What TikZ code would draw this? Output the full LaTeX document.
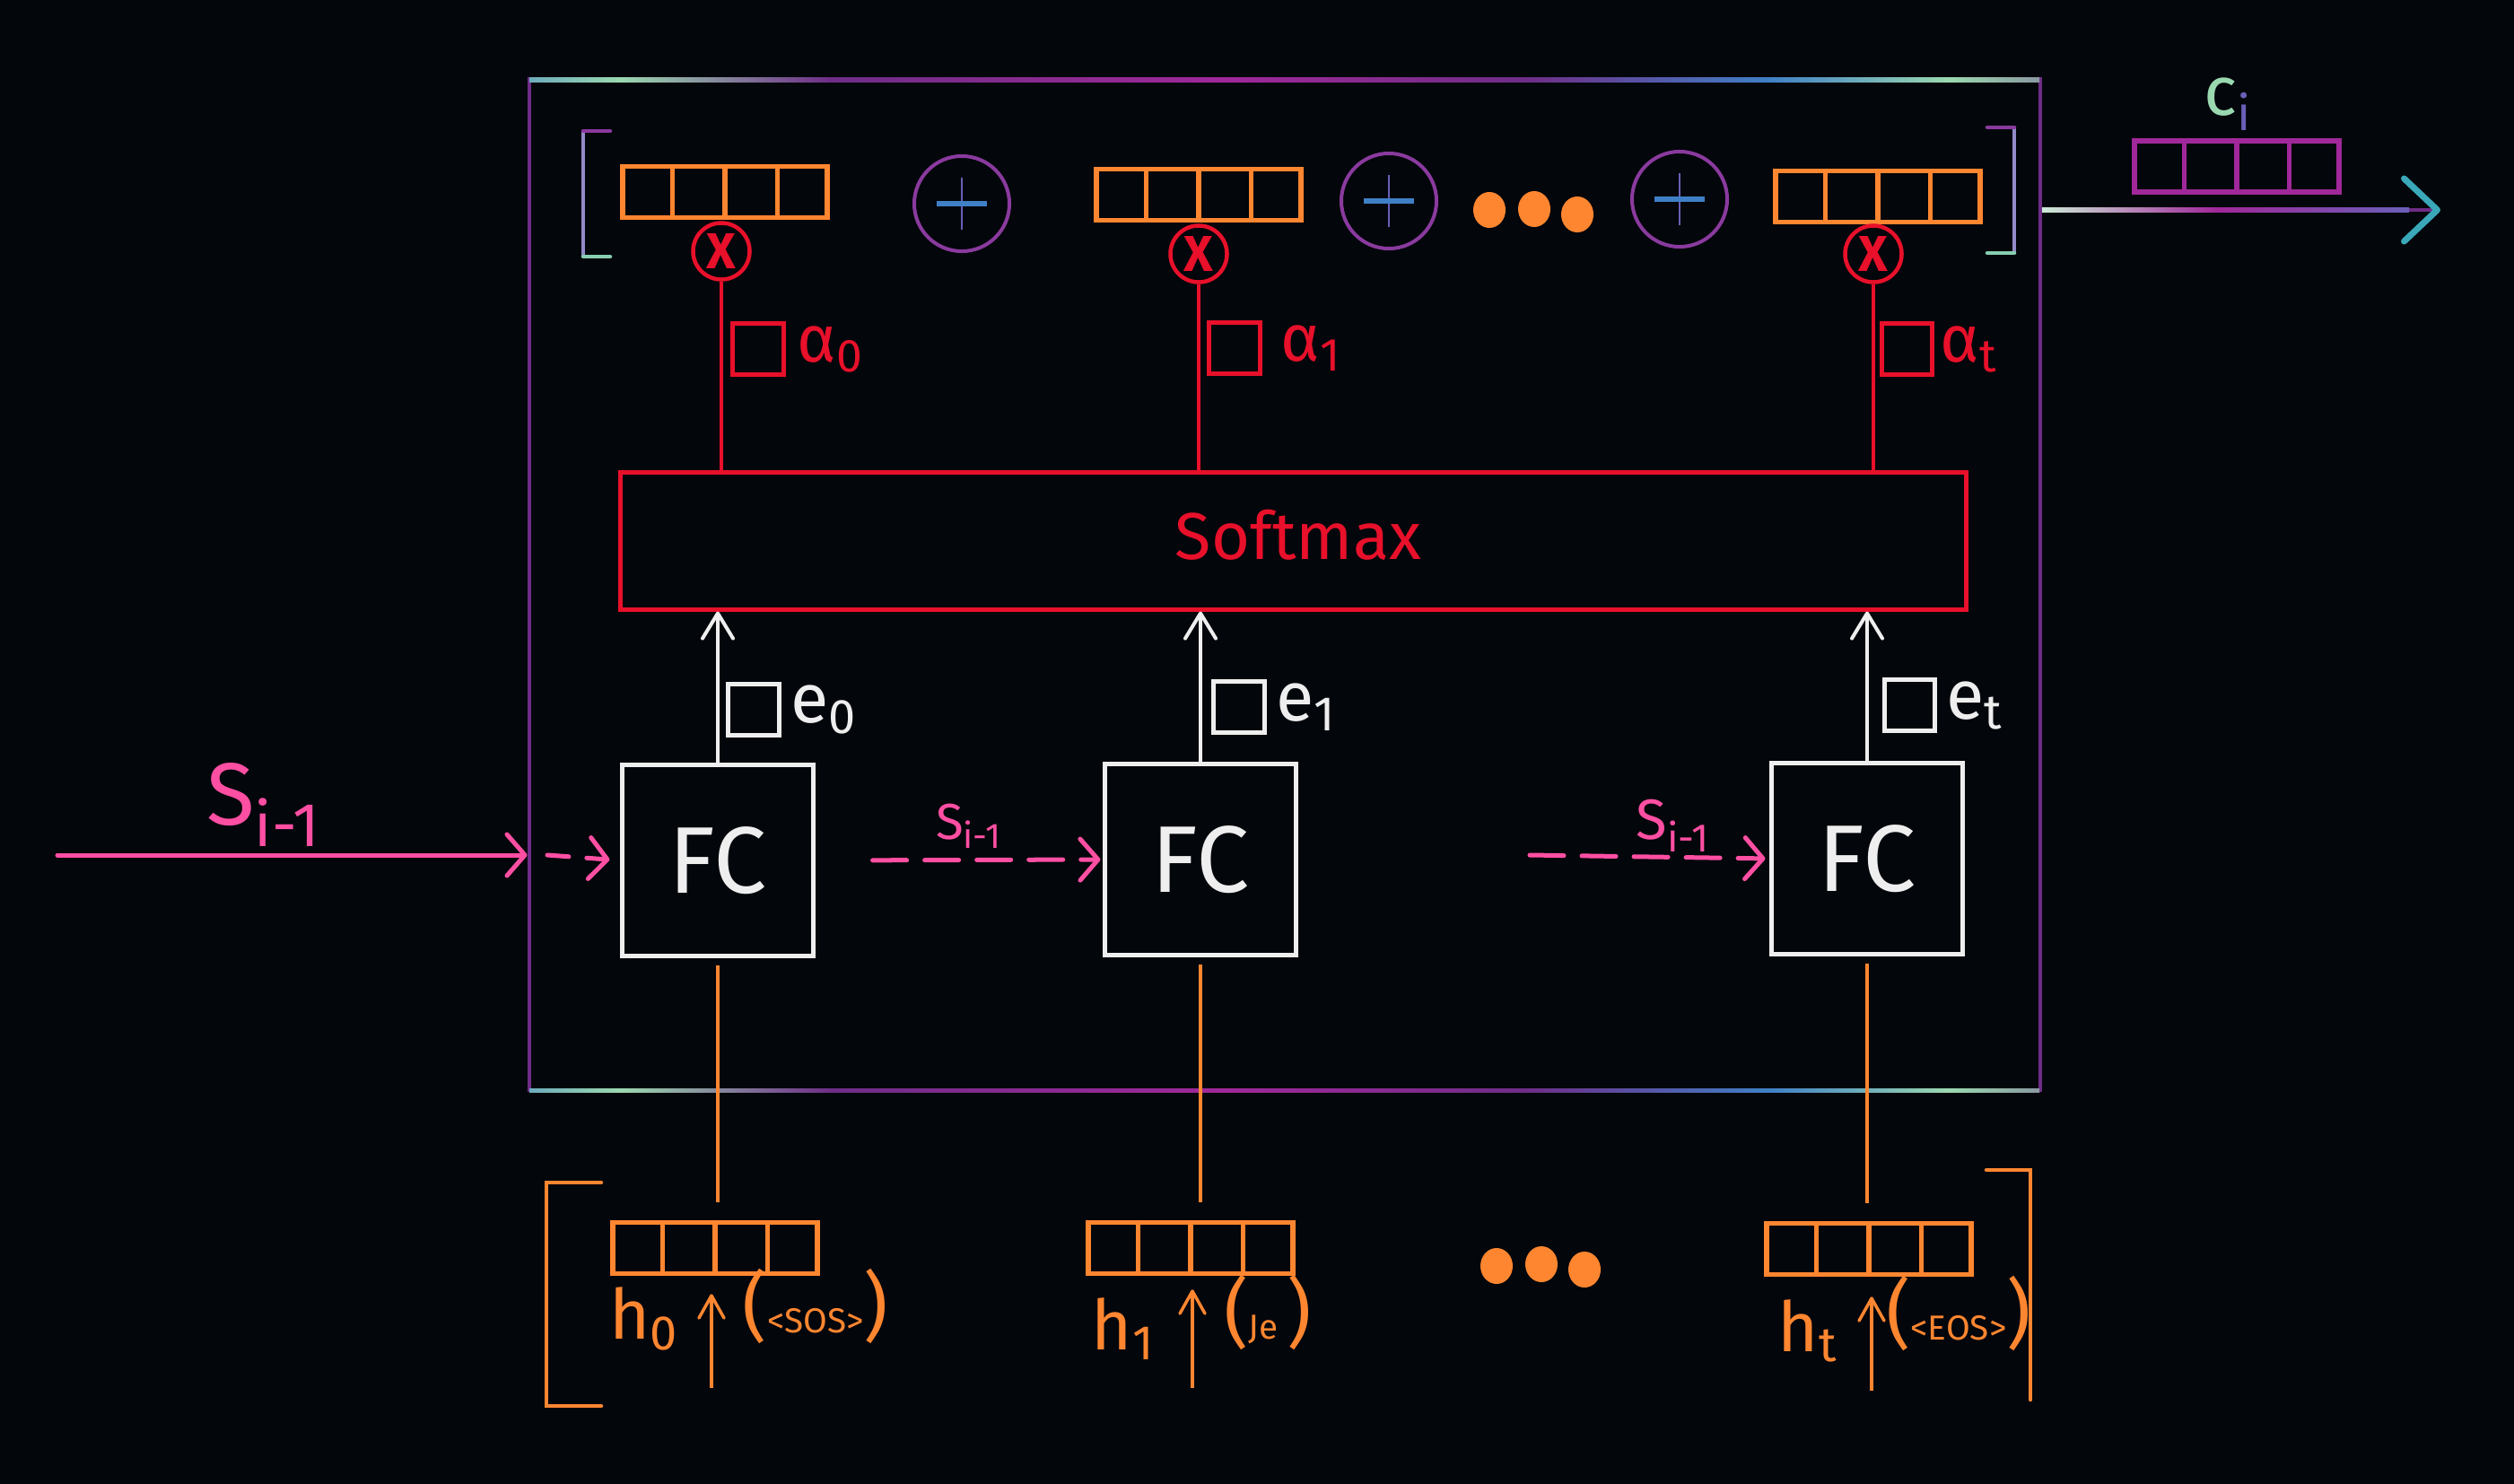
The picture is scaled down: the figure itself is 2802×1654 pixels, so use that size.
\documentclass[tikz,border=0pt]{standalone}
\usepackage{fontspec}
\setmainfont{Fira Sans}
\usetikzlibrary{arrows.meta,calc}
\definecolor{bg}{HTML}{03060B}
\definecolor{myorange}{HTML}{FF8630}
\definecolor{myred}{HTML}{E8102A}
\definecolor{mypink}{HTML}{FF4FA3}
\definecolor{mywhite}{HTML}{EEEEEE}
\definecolor{mypurple}{HTML}{6E2D87}
\definecolor{mymagenta}{HTML}{A0289A}
\definecolor{myblue}{HTML}{3F7FC6}
\definecolor{myviolet}{HTML}{6A5FB8}
\definecolor{myteal}{HTML}{3AA8B8}
\definecolor{mygreen}{HTML}{9AD8B0}
\definecolor{plumring}{HTML}{8A3A9E}
\pgfdeclarehorizontalshading{glitter}{100bp}{color(0bp)=(mypurple); color(15bp)=(mypurple); color(22bp)=(myblue); color(28bp)=(mygreen); color(35bp)=(mypurple); color(48bp)=(mymagenta); color(58bp)=(mypurple); color(66bp)=(myblue); color(72bp)=(mygreen); color(80bp)=(mypurple); color(92bp)=(mymagenta); color(100bp)=(mypurple)}
\newcommand{\myfs}[1]{\fontsize{#1}{#1}\selectfont}
\newcommand{\celldiv}[2]{%
  \foreach \k in {0.25,0.5,0.75}{%
    \draw[#2, line width=0.055cm] ($(#1.north west)!\k!(#1.north east)$) -- ($(#1.south west)!\k!(#1.south east)$);}}
\newcommand{\tokl}[1]{{\myfs{24}(}{\myfs{11}#1}{\myfs{24})}}
\tikzset{
  vec/.style={draw, minimum width=2.28cm, minimum height=0.57cm, inner sep=0pt, line width=0.055cm},
  sq/.style={draw, line width=0.05cm, minimum size=0.56cm, inner sep=0pt},
  lbl/.style={inner sep=0pt},
  plusring/.style={circle, draw=plumring, line width=0.04cm, minimum size=1.06cm, inner sep=0pt},
  xring/.style={circle, draw=myred, line width=0.045cm, minimum size=0.63cm, inner sep=0pt, text=myred, font=\myfs{16}\bfseries},
  fcbox/.style={draw=mywhite, line width=0.05cm, minimum width=2.12cm, minimum height=2.12cm, inner sep=0pt, text=mywhite, font=\myfs{30}},
  redline/.style={myred, line width=0.04cm},
  wline/.style={mywhite, line width=0.04cm, -{Straight Barb[length=0.28cm,width=0.34cm,round]}},
  oline/.style={myorange, line width=0.035cm},
  oarrow/.style={myorange, line width=0.035cm, -{Straight Barb[length=0.25cm,width=0.28cm,round]}},
  parrow/.style={mypink, line width=0.05cm, line cap=round, -{Straight Barb[length=0.2cm,width=0.46cm,round]}},
  pdash/.style={parrow, dash pattern=on 0.38cm off 0.2cm},
  pdashshort/.style={parrow, dash pattern=on 0.24cm off 0.2cm},
  brk/.style={line width=0.045cm, line cap=round},
}
\begin{document}
\begin{tikzpicture}[x=0.01cm,y=-0.01cm]
\fill[bg] (0,0) rectangle (2802,1654);
\useasboundingbox (0,0) rectangle (2802,1654);

% outer attention box
\node[draw=mypurple, line width=0.04cm, minimum width=16.83cm, minimum height=11.27cm, inner sep=0pt] (outer) at (1431.5,651.5) {};
\shade[shading=glitter] (590,86.5) rectangle (2273,91);
\shade[shading=glitter] (590,1213) rectangle (2273,1217.5);

% top bracket
\draw[brk, color=myviolet!70!mywhite] (650,147) -- (650,285);
\draw[brk, color=plumring] (650,146) -- (680,146);
\draw[brk, color=mygreen!80!myteal] (650,286) -- (680,286);
\draw[brk, color=myviolet!70!mywhite] (2245,143) -- (2245,281);
\draw[brk, color=plumring] (2245,142) -- (2215,142);
\draw[brk, color=mygreen!80!myteal] (2245,282) -- (2215,282);

% top vectors
\node[vec, draw=myorange] (v0) at (808,214) {};
\node[vec, draw=myorange] (v1) at (1336,217) {};
\node[vec, draw=myorange] (v2) at (2093,219) {};
\celldiv{v0}{myorange}
\celldiv{v1}{myorange}
\celldiv{v2}{myorange}

% plus rings
\node[plusring] (p0) at (1072,227) {};
\node[plusring] (p1) at (1548,224) {};
\node[plusring] (p2) at (1872,222) {};
\foreach \p in {p0,p1,p2}{
  \draw[myviolet, line width=0.025cm] ($(\p)+(0,-29)$) -- ($(\p)+(0,29)$);
  \draw[myblue, line width=0.06cm] ($(\p)+(-28,0)$) -- ($(\p)+(28,0)$);
}

% dots top
\fill[myorange] (1660,234) ellipse [x radius=0.18cm, y radius=0.20cm];
\fill[myorange] (1710,233) ellipse [x radius=0.18cm, y radius=0.20cm];
\fill[myorange] (1758,239) ellipse [x radius=0.18cm, y radius=0.20cm];

% multiply rings
\node[xring] (x0) at (804,280) {X};
\node[xring] (x1) at (1336,283) {X};
\node[xring] (x2) at (2088,283) {X};

% softmax
\node[draw=myred, line width=0.05cm, minimum width=14.99cm, minimum height=1.52cm, inner sep=0pt] (sm) at (1441.5,603) {};
\node[lbl, text=myred, font=\myfs{21}] (smt) at (1447,596) {Softmax};

\draw[redline] (x0.south) -- (x0.south |- sm.north);
\draw[redline] (x1.south) -- (x1.south |- sm.north);
\draw[redline] (x2.south) -- (x2.south |- sm.north);

% alpha squares
\node[sq, draw=myred] (a0) at (845,389) {};
\node[sq, draw=myred] (a1) at (1376,388) {};
\node[sq, draw=myred] (a2) at (2125,389) {};
\node[lbl, anchor=west, text=myred, font=\myfs{21}] (la0) at ($(a0.east)+(12,0)$) {α\textsubscript{0}};
\node[lbl, anchor=west, text=myred, font=\myfs{21}] (la1) at ($(a1.east)+(20,0)$) {α\textsubscript{1}};
\node[lbl, anchor=west, text=myred, font=\myfs{21}] (la2) at ($(a2.east)+(6,0)$) {α\textsubscript{t}};

% FC boxes
\node[fcbox] (fc0) at (800,959) {FC};
\node[fcbox] (fc1) at (1338,958) {FC};
\node[fcbox] (fc2) at (2081,957) {FC};

\draw[wline] (fc0.north) -- (fc0.north |- sm.south);
\draw[wline] (fc1.north) -- (fc1.north |- sm.south);
\draw[wline] (fc2.north) -- (fc2.north |- sm.south);

% e squares
\node[sq, draw=mywhite] (e0) at (840,791) {};
\node[sq, draw=mywhite] (e1) at (1381,788) {};
\node[sq, draw=mywhite] (e2) at (2128,786) {};
\node[lbl, anchor=west, text=mywhite, font=\myfs{22}] (le0) at ($(e0.east)+(10,0)$) {e\textsubscript{0}};
\node[lbl, anchor=west, text=mywhite, font=\myfs{22}] (le1) at ($(e1.east)+(10,0)$) {e\textsubscript{1}};
\node[lbl, anchor=west, text=mywhite, font=\myfs{22}] (le2) at ($(e2.east)+(10,0)$) {e\textsubscript{t}};

% s_{i-1} arrows
\coordinate (sin) at (64,953);
\coordinate (ds0) at (610,953);
\coordinate (ds2) at (1705,953);
\draw[parrow] (sin) -- (sin -| outer.west);
\node[lbl, text=mypink, font=\myfs{28}] (ls0) at (294,897) {S\textsubscript{i-1}};
\draw[pdashshort, shorten >=0.12cm] (ds0) -- (fc0.west);
\draw[pdash, shorten <=0.64cm, shorten >=0.03cm] (fc0.east) -- (fc1.west);
\node[lbl, text=mypink, font=\myfs{16}] (ls1) at (1080,921) {S\textsubscript{i-1}};
\draw[pdash, shorten >=0.05cm] (ds2) -- (fc2.west);
\node[lbl, text=mypink, font=\myfs{18}] (ls2) at (1865,920) {S\textsubscript{i-1}};

% bottom vectors
\node[vec, draw=myorange] (hv0) at (797,1391) {};
\node[vec, draw=myorange] (hv1) at (1327,1391) {};
\node[vec, draw=myorange] (hv2) at (2083,1392) {};
\celldiv{hv0}{myorange}
\celldiv{hv1}{myorange}
\celldiv{hv2}{myorange}

\draw[oline, shorten <=0.08cm, shorten >=0.2cm] (fc0.south) -- (fc0.south |- hv0.north);
\draw[oline, shorten <=0.08cm, shorten >=0.2cm] (fc1.south) -- (fc1.south |- hv1.north);
\draw[oline, shorten <=0.08cm, shorten >=0.2cm] (fc2.south) -- (fc2.south |- hv2.north);

% bottom dots
\fill[myorange] (1668,1411) ellipse [x radius=0.18cm, y radius=0.20cm];
\fill[myorange] (1718,1409) ellipse [x radius=0.18cm, y radius=0.20cm];
\fill[myorange] (1766,1415) ellipse [x radius=0.18cm, y radius=0.20cm];

% input arrows
\coordinate (b0) at (793,1547);
\coordinate (b1) at (1329,1547);
\coordinate (b2) at (2086,1550);
\draw[oarrow, shorten >=0.2cm] (b0) -- (b0 |- hv0.south);
\draw[oarrow, shorten >=0.15cm] (b1) -- (b1 |- hv1.south);
\draw[oarrow, shorten >=0.22cm] (b2) -- (b2 |- hv2.south);

\node[lbl, text=myorange, font=\myfs{22}] (lh0) at (718,1470) {h\textsubscript{0}};
\node[lbl, text=myorange, font=\myfs{22}] (lh1) at (1252,1481) {h\textsubscript{1}};
\node[lbl, text=myorange, font=\myfs{22}] (lh2) at (2015,1483) {h\textsubscript{t}};
\node[lbl, text=myorange] (t0) at (909,1456) {\tokl{<SOS>}};
\node[lbl, text=myorange] (t1) at (1413,1463) {\tokl{Je }};
\node[lbl, text=myorange] (t2) at (2183,1464) {\tokl{<EOS>}};

% bottom brackets
\draw[brk, myorange] (670,1318) -- (609,1318) -- (609,1567) -- (670,1567);
\draw[brk, myorange] (2214,1304) -- (2263,1304) -- (2263,1560);

% context vector output
\coordinate (cout) at (2720,234);
\draw[line width=0.045cm, mypurple, -{Straight Barb[length=0.37cm,width=0.7cm,round,color=myteal,line width=0.07cm]}] (outer.east |- cout) -- (cout);
\shade[left color=mygreen!50!white, right color=mymagenta] (2276,231.8) rectangle (2470,236.2);
\shade[left color=mymagenta, right color=myviolet] (2470,231.8) rectangle (2685,236.2);
\node[vec, draw=mymagenta] (cv) at (2493,185.5) {};
\celldiv{cv}{mymagenta}
\node[lbl, font=\myfs{22}] (lc) at (2483,116) {\textcolor{mygreen}{c}\textcolor{myviolet}{\textsubscript{i}}};
\end{tikzpicture}
\end{document}
